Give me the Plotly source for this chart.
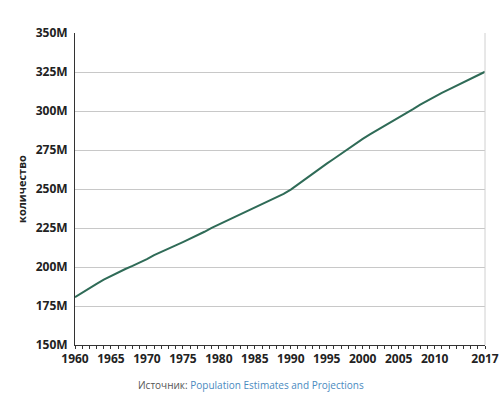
import plotly.graph_objects as go

years = list(range(1960, 2018))
population_m = [
    180.67, 183.69, 186.54, 189.24, 191.89, 194.30, 196.56, 198.71, 200.71, 202.68,
    205.05, 207.66, 209.90, 211.91, 213.85, 215.97, 218.04, 220.24, 222.59, 225.06,
    227.23, 229.47, 231.66, 233.79, 235.83, 237.92, 240.13, 242.29, 244.50, 246.82,
    249.62, 252.98, 256.51, 259.92, 263.13, 266.28, 269.39, 272.66, 275.85, 279.04,
    282.16, 284.97, 287.63, 290.11, 292.81, 295.52, 298.38, 301.23, 304.09, 306.77,
    309.33, 311.58, 313.88, 316.06, 318.39, 320.74, 323.07, 325.15,
]
population = [v * 1e6 for v in population_m]
x_tickvals = [1960, 1965, 1970, 1975, 1980, 1985, 1990, 1995, 2000, 2005, 2010, 2017]
y_tickvals = [150e6, 175e6, 200e6, 225e6, 250e6, 275e6, 300e6, 325e6, 350e6]
y_ticktext = ["150M", "175M", "200M", "225M", "250M", "275M", "300M", "325M", "350M"]

fig = go.Figure()
fig.add_trace(go.Scatter(
    x=years, y=population, mode="lines",
    line=dict(color="#2f6b57", width=2), hoverinfo="skip", showlegend=False,
))

fig.update_layout(
    width=499, height=399,
    margin=dict(l=75, r=14, t=33, b=54, autoexpand=False),
    paper_bgcolor="white", plot_bgcolor="white",
    font=dict(family="Open Sans", color="#222"),
    xaxis=dict(
        range=[1960, 2017], tickvals=x_tickvals, ticks="outside", ticklen=3,
        tickcolor="#333", showgrid=False, showline=True, linecolor="#333", linewidth=1,
        tickfont=dict(size=12, color="#222", family="Open Sans", weight="bold"),
        minor=dict(dtick=1, ticks="outside", ticklen=3, tickcolor="#333", showgrid=False),
        mirror=False, zeroline=False, fixedrange=True, automargin=False,
    ),
    yaxis=dict(
        range=[150e6, 350e6], tickvals=y_tickvals, ticktext=y_ticktext,
        showgrid=True, gridcolor="#c8c8c8", gridwidth=1,
        showline=True, linecolor="#333", linewidth=1, ticks="", ticklabelstandoff=4,
        tickfont=dict(size=12, color="#222", family="Open Sans", weight="bold"),
        title=dict(text="количество", font=dict(size=11, family="Open Sans", weight="bold", color="#222"), standoff=6),
        zeroline=False, fixedrange=True, automargin=False,
    ),
    shapes=[dict(type="line", xref="paper", yref="paper", x0=1, x1=1, y0=0, y1=1,
                 line=dict(color="#d0d0d0", width=1))],
    annotations=[dict(
        xref="paper", yref="paper", x=0.43, y=-0.1, xanchor="center", yanchor="top",
        text="<span style='color:#555'>Источник:</span> <span style='color:#4a8ac0'>Population Estimates and Projections</span>",
        showarrow=False, font=dict(size=10, family="Open Sans"),
    )],
)

fig.write_html(
    "out.html",
    config={"displayModeBar": False},
    post_script="document.body.style.margin='0';document.body.style.padding='0';document.body.style.overflow='hidden';",
)
